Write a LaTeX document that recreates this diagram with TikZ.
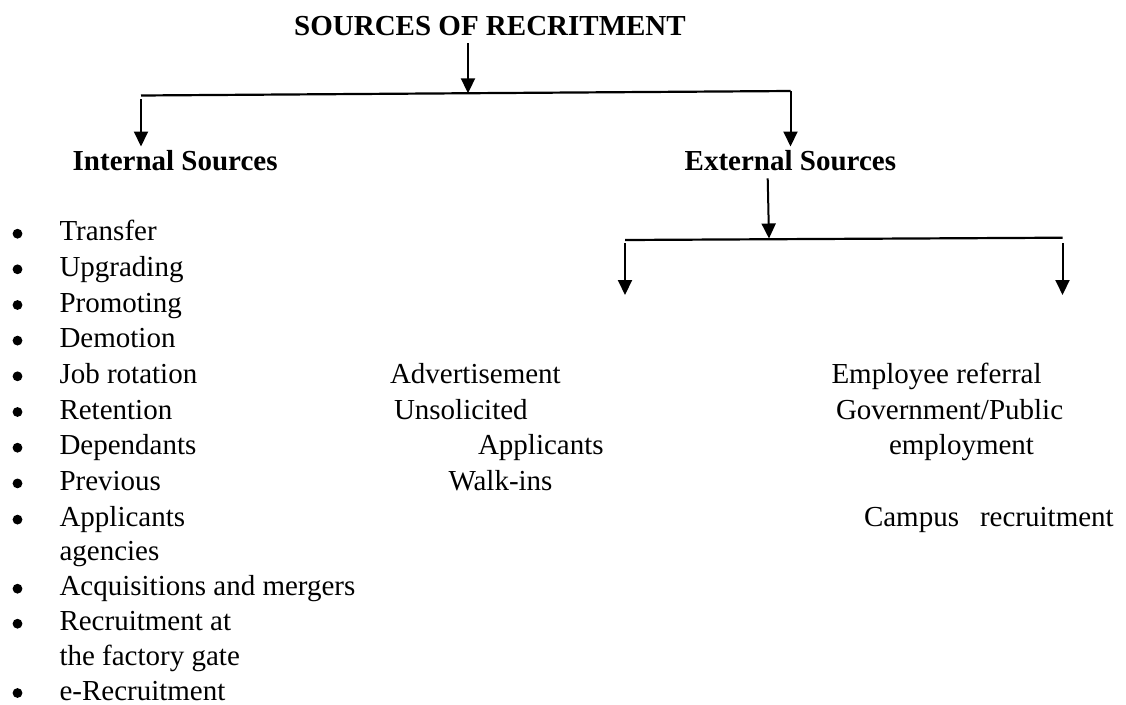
\documentclass[tikz,border=0pt]{standalone}
\usepackage{fontspec}
\setmainfont{Liberation Serif}
\newfontfamily\timesfont{Liberation Serif}
\usetikzlibrary{arrows.meta}
\begin{document}
\begin{tikzpicture}[x=1pt,y=-1pt,
  txt/.style={anchor=base west,inner sep=0pt,outer sep=0pt,font=\timesfont\fontsize{29}{35}\selectfont},
  head/.style={txt,font=\timesfont\fontsize{29}{35}\selectfont\bfseries},
  arr/.style={line width=2pt,-{Triangle[width=14pt,length=15pt]}},
  bar/.style={line width=2.2pt},
  dot/.style={fill=black}]
\useasboundingbox (0,0) rectangle (1126,704);

% headings
\node[head,anchor=base] (title) at (490,35.7) {SOURCES OF RECRITMENT};
\node[head] (int) at (72.7,170.7) {Internal Sources};
\node[head] (ext) at (684.7,170.7) {External Sources};

% first branching
\coordinate (t0) at (468,43);
\coordinate (t1) at (468,93.3);
\coordinate (barL) at (141,95.5);
\coordinate (barR) at (790.5,91);
\coordinate (l0) at (141,99);
\coordinate (l1) at (141,146.5);
\coordinate (r1) at (790.5,146.5);
\draw[arr] (t0) -- (t1);
\draw[bar] (barL) -- (barR);
\draw[arr] (l0) -- (l1);
\draw[arr] (barR) -- (r1);

% second branching under the external sources
\coordinate (e0) at (767.7,178.3);
\coordinate (e1) at (769,238.5);
\coordinate (bL) at (625,240);
\coordinate (bR) at (1062.5,237.7);
\coordinate (a0) at (625,243.3);
\coordinate (a1) at (625,295);
\coordinate (b0) at (1062.5,243.3);
\coordinate (b1) at (1062.5,295);
\draw[arr] (e0) -- (e1);
\draw[bar] (bL) -- (bR);
\draw[arr] (a0) -- (a1);
\draw[arr] (b0) -- (b1);

% internal sources list
\foreach \y/\t [count=\i] in {240.7/Transfer, 276.3/Upgrading, 312/Promoting,
    347.6/Demotion, 383.3/Job rotation, 419/Retention, 454.7/Dependants,
    490.4/Previous, 526.6/Applicants, 595.7/Acquisitions and mergers,
    630.7/Recruitment at, 700/e-Recruitment}{
  \fill[dot] (17.5,\y-7) circle (4.9);
  \node[txt] (in\i) at (59.5,\y) {\t};
}
\node[txt] (in9b) at (59.5,560) {agencies};
\node[txt] (in11b) at (59.5,665) {the factory gate};

% external sources, first group
\node[txt] (adv) at (390,383.3) {Advertisement};
\node[txt] (uns) at (394,419) {Unsolicited};
\node[txt] (app) at (478,454.7) {Applicants};
\node[txt] (walk) at (448.5,490.4) {Walk-ins};

% external sources, second group
\node[txt] (emp) at (831.5,383.3) {Employee referral};
\node[txt] (gov) at (836,419) {Government/Public};
\node[txt] (gov2) at (889,454.7) {employment};
\node[txt] (camp) at (864,526.6) {Campus\hspace{21pt}recruitment};
\end{tikzpicture}
\end{document}
